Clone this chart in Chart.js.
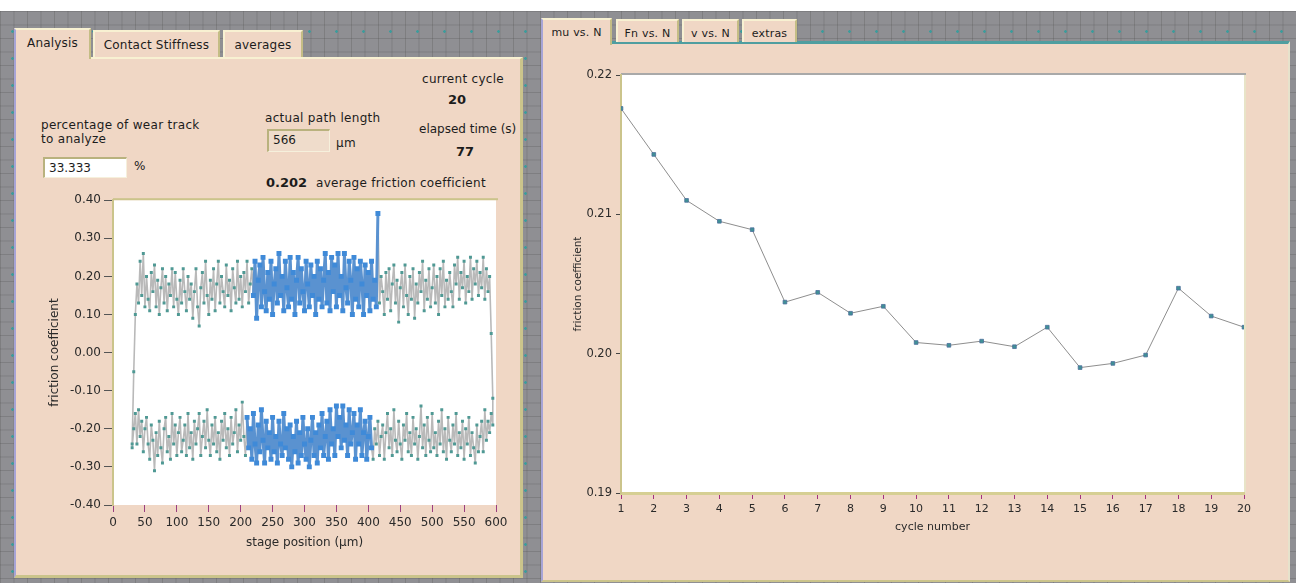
<!DOCTYPE html>
<html lang="en">
<head>
  <meta charset="UTF-8">
  <title>Friction loop / mu vs. N</title>
  <script src="https://cdn.jsdelivr.net/npm/chart.js"></script>
  <style>
    body { margin: 0; width: 1296px; height: 583px; overflow: hidden; background: #fff;
           font-family: "DejaVu Sans", sans-serif; color: #1c1c1c; }
    #desk { position: absolute; left: 0; top: 11px; width: 1296px; height: 572px;
            background-color: #8f8f93;
            background-image:
              radial-gradient(circle, #3c9c9c 1px, transparent 1.6px),
              linear-gradient(rgba(80,80,80,.28) 1px, transparent 1px),
              linear-gradient(90deg, rgba(80,80,80,.28) 1px, transparent 1px);
            background-size: 27px 27px, 13.5px 13.5px, 13.5px 13.5px;
            background-position: -1px 7px, 0 0, 0 0; }
    .panel { position: absolute; background: #f0d7c5; box-sizing: border-box; }
    .tab { position: absolute; background: #f0d7c5; box-sizing: border-box;
           border-top: 2px solid #f8f1d2; border-left: 2px solid #f8f1d2; border-right: 2px solid #c4bd85;
           font-size: 12px; letter-spacing: 0.2px; padding-top: 6px; text-align: center; }
    .lbl { position: absolute; font-size: 12px; letter-spacing: 0.3px; white-space: nowrap; line-height: 14px; }
    .num { position: absolute; font-size: 13px; font-weight: bold; white-space: nowrap; line-height: 15px; }
    .box { position: absolute; box-sizing: border-box; font-size: 12px; padding: 2px 0 0 4px;
           border-top: 2px solid #b9b27e; border-left: 2px solid #b9b27e;
           border-bottom: 1px solid #f6f0dc; border-right: 1px solid #f6f0dc; }
    canvas { position: absolute; }
  </style>
</head>
<body>
  <div id="desk"></div>

  <!-- left panel -->
  <div class="panel" style="left:14px;top:57px;width:509px;height:521px;border-left:2px solid #a7a4d6;border-right:3px solid #cbc48b;border-bottom:3px solid #cbc48b;border-top:2px solid #f8f1d2;"></div>
  <div class="tab" style="left:14px;top:28px;width:77px;height:31px;border-left-color:#a7a4d6;">Analysis</div>
  <div class="tab" style="left:93px;top:30px;width:127px;height:27px;">Contact Stiffness</div>
  <div class="tab" style="left:223px;top:30px;width:80px;height:27px;">averages</div>

  <div class="lbl" style="left:422px;top:72px;">current cycle</div>
  <div class="num" style="left:448px;top:92px;">20</div>
  <div class="lbl" style="left:419px;top:122px;letter-spacing:0;">elapsed time (s)</div>
  <div class="num" style="left:456px;top:144px;">77</div>

  <div class="lbl" style="left:41px;top:118px;">percentage of wear track</div>
  <div class="lbl" style="left:41px;top:132px;">to analyze</div>
  <div class="box" style="left:43px;top:157px;width:84px;height:21px;background:#fff;">33.333</div>
  <div class="lbl" style="left:134px;top:159px;">%</div>

  <div class="lbl" style="left:265px;top:111px;">actual path length</div>
  <div class="box" style="left:267px;top:129px;width:63px;height:23px;background:#efdccb;">566</div>
  <div class="lbl" style="left:336px;top:136px;">µm</div>

  <div class="num" style="left:266px;top:175px;">0.202</div>
  <div class="lbl" style="left:316px;top:176px;">average friction coefficient</div>

  <canvas id="loopChart" width="480" height="360" style="left:40px;top:190px;"></canvas>

  <!-- right panel -->
  <div class="panel" style="left:541px;top:41px;width:749px;height:541px;border-left:2px solid #a7a4d6;border-top:3px solid #4f9ea0;border-bottom:2px solid #cbc48b;border-right:2px solid #e6e2cc;"></div>
  <div class="tab" style="left:541px;top:18px;width:71px;height:27px;font-size:11px;border-left-color:#a7a4d6;">mu vs. N</div>
  <div class="tab" style="left:616px;top:19px;width:63px;height:23px;font-size:11px;">Fn vs. N</div>
  <div class="tab" style="left:682px;top:19px;width:57px;height:23px;font-size:11px;">v vs. N</div>
  <div class="tab" style="left:742px;top:19px;width:55px;height:23px;font-size:11px;">extras</div>

  <canvas id="cycleChart" width="730" height="474" style="left:555px;top:60px;"></canvas>

  <script>
    // stage position grid of one stroke (µm)
    const posStart = 30;
    const posStep = 2.5;

    // friction coefficient, forward stroke (left -> right)
    const forwardMu = [
      -0.24, -0.05, 0.10, 0.18, 0.13, 0.24, 0.15, 0.26, 0.12, 0.20,
      0.14, 0.11, 0.21, 0.16, 0.23, 0.12, 0.19, 0.10, 0.17, 0.22,
      0.13, 0.20, 0.11, 0.18, 0.15, 0.22, 0.12, 0.21, 0.14, 0.10,
      0.19, 0.13, 0.22, 0.16, 0.11, 0.20, 0.14, 0.18, 0.09, 0.16,
      0.22, 0.12, 0.07, 0.17, 0.21, 0.13, 0.24, 0.15, 0.10, 0.19,
      0.14, 0.22, 0.11, 0.18, 0.24, 0.13, 0.20, 0.16, 0.12, 0.23,
      0.15, 0.19, 0.11, 0.22, 0.17, 0.13, 0.24, 0.14, 0.20, 0.12,
      0.21, 0.16, 0.24, 0.13, 0.18, 0.22, 0.15, 0.24, 0.09, 0.19,
      0.23, 0.12, 0.25, 0.16, 0.11, 0.21, 0.14, 0.24, 0.10, 0.18,
      0.22, 0.13, 0.26, 0.15, 0.20, 0.11, 0.24, 0.17, 0.12, 0.25,
      0.14, 0.21, 0.10, 0.19, 0.25, 0.13, 0.22, 0.16, 0.11, 0.24,
      0.18, 0.12, 0.23, 0.15, 0.20, 0.10, 0.24, 0.14, 0.22, 0.12,
      0.19, 0.26, 0.13, 0.21, 0.11, 0.25, 0.16, 0.23, 0.12, 0.26,
      0.15, 0.20, 0.11, 0.26, 0.17, 0.13, 0.24, 0.19, 0.10, 0.25,
      0.14, 0.22, 0.12, 0.24, 0.18, 0.10, 0.23, 0.15, 0.21, 0.11,
      0.24, 0.14, 0.19, 0.12, 0.365, 0.13, 0.20, 0.16, 0.10, 0.21,
      0.14, 0.22, 0.11, 0.18, 0.23, 0.13, 0.19, 0.08, 0.17, 0.21,
      0.12, 0.23, 0.15, 0.10, 0.20, 0.14, 0.22, 0.09, 0.18, 0.13,
      0.21, 0.16, 0.24, 0.11, 0.19, 0.14, 0.22, 0.12, 0.17, 0.23,
      0.13, 0.20, 0.10, 0.22, 0.15, 0.24, 0.12, 0.19, 0.14, 0.21,
      0.16, 0.12, 0.23, 0.18, 0.25, 0.14, 0.21, 0.17, 0.24, 0.13,
      0.20, 0.16, 0.25, 0.14, 0.22, 0.18, 0.24, 0.15, 0.21, 0.17,
      0.25, 0.14, 0.22, 0.16, 0.20, 0.05, -0.12
    ];

    // friction coefficient, reverse stroke (listed by increasing position)
    const reverseMu = [
      -0.25, -0.20, -0.16, -0.24, -0.15, -0.22, -0.18, -0.26, -0.20, -0.17,
      -0.24, -0.28, -0.19, -0.23, -0.31, -0.21, -0.27, -0.18, -0.25, -0.29,
      -0.20, -0.17, -0.26, -0.22, -0.28, -0.16, -0.24, -0.19, -0.27, -0.21,
      -0.17, -0.26, -0.23, -0.19, -0.27, -0.16, -0.25, -0.21, -0.28, -0.18,
      -0.24, -0.20, -0.16, -0.27, -0.22, -0.18, -0.25, -0.15, -0.23, -0.27,
      -0.19, -0.24, -0.17, -0.26, -0.21, -0.28, -0.18, -0.23, -0.16, -0.25,
      -0.20, -0.27, -0.17, -0.24, -0.21, -0.15, -0.26, -0.19, -0.23, -0.13,
      -0.22, -0.27, -0.17, -0.25, -0.20, -0.28, -0.16, -0.24, -0.29, -0.19,
      -0.26, -0.15, -0.23, -0.29, -0.18, -0.25, -0.21, -0.28, -0.17, -0.26,
      -0.22, -0.29, -0.18, -0.24, -0.27, -0.16, -0.25, -0.20, -0.28, -0.19,
      -0.30, -0.22, -0.26, -0.18, -0.29, -0.21, -0.27, -0.17, -0.24, -0.28,
      -0.20, -0.30, -0.23, -0.17, -0.27, -0.21, -0.29, -0.19, -0.25, -0.16,
      -0.27, -0.22, -0.18, -0.28, -0.15, -0.24, -0.20, -0.27, -0.14, -0.22,
      -0.17, -0.25, -0.14, -0.23, -0.19, -0.27, -0.15, -0.24, -0.21, -0.16,
      -0.28, -0.19, -0.24, -0.15, -0.27, -0.21, -0.18, -0.28, -0.22, -0.17,
      -0.25, -0.28, -0.20, -0.24, -0.18, -0.27, -0.22, -0.19, -0.28, -0.21,
      -0.16, -0.25, -0.20, -0.27, -0.15, -0.23, -0.26, -0.18, -0.24, -0.28,
      -0.19, -0.23, -0.16, -0.26, -0.21, -0.27, -0.17, -0.24, -0.20, -0.28,
      -0.22, -0.14, -0.25, -0.19, -0.27, -0.17, -0.23, -0.26, -0.16, -0.25,
      -0.21, -0.27, -0.18, -0.24, -0.15, -0.26, -0.20, -0.28, -0.17, -0.23,
      -0.26, -0.19, -0.24, -0.16, -0.27, -0.21, -0.25, -0.18, -0.28, -0.20,
      -0.24, -0.17, -0.27, -0.21, -0.25, -0.29, -0.19, -0.26, -0.22, -0.18,
      -0.26, -0.15, -0.23, -0.18, -0.21, -0.16, -0.19
    ];

    // analysed part of the wear track (µm)
    const fwdWindow = [220, 415];
    const revWindow = [210, 405];

    // averages per cycle
    const cycles = [1, 2, 3, 4, 5, 6, 7, 8, 9, 10, 11, 12, 13, 14, 15, 16, 17, 18, 19, 20];
    const cycleMu = [0.2176, 0.2143, 0.2110, 0.2095, 0.2089, 0.2037, 0.2044, 0.2029, 0.2034, 0.2008,
                     0.2006, 0.2009, 0.2005, 0.2019, 0.1990, 0.1993, 0.1999, 0.2047, 0.2027, 0.2019];

    const stagePos = forwardMu.map((_, i) => posStart + i * posStep);
    const fwdPts = stagePos.map((x, i) => ({ x: x, y: forwardMu[i] }));
    const revPts = stagePos.map((x, i) => ({ x: x, y: reverseMu[i] })).reverse();
    const inWin = (w) => (p) => p.x >= w[0] && p.x <= w[1];

    Chart.defaults.font.family = '"DejaVu Sans", sans-serif';
    Chart.defaults.color = '#2a2a2a';

    // white plot background with a thin frame line on top
    const plotFrame = {
      id: 'plotFrame',
      beforeDraw(chart, args, opts) {
        const { ctx, chartArea: a } = chart;
        ctx.save();
        ctx.fillStyle = '#ffffff';
        ctx.fillRect(a.left, a.top, a.right - a.left, a.bottom - a.top);
        ctx.fillStyle = opts.top;
        ctx.fillRect(a.left, a.top - 2, a.right - a.left + 2, 2);
        if (opts.right) {
          ctx.fillStyle = opts.right;
          ctx.fillRect(a.right, a.top, 2, a.bottom - a.top);
        }
        ctx.restore();
      }
    };

    const blueSet = (pts) => ({
      data: pts,
      borderColor: '#5a92d0',
      borderWidth: 3,
      borderJoinStyle: 'round',
      pointStyle: 'rect',
      pointRadius: 3.5,
      pointBackgroundColor: '#3f8ad8',
      pointBorderWidth: 0
    });

    new Chart(document.getElementById('loopChart'), {
      type: 'line',
      data: {
        datasets: [
          blueSet(fwdPts.filter(inWin(fwdWindow))),
          blueSet(revPts.filter(inWin(revWindow))),
          {
            data: fwdPts.concat(revPts),
            borderColor: '#b9b9b9',
            borderWidth: 1.6,
            borderJoinStyle: 'round',
            pointStyle: 'rect',
            pointRadius: 2.1,
            pointBackgroundColor: '#4f9994',
            pointBorderWidth: 0
          }
        ]
      },
      options: {
        responsive: false,
        animation: false,
        layout: { padding: { top: 9, right: 24, left: 0, bottom: 0 } },
        plugins: { legend: { display: false }, tooltip: { enabled: false }, plotFrame: { top: '#cbc48b' } },
        scales: {
          x: {
            type: 'linear', min: 0, max: 600,
            ticks: { stepSize: 50, autoSkip: false, maxRotation: 0, padding: 4, font: { size: 12 } },
            grid: { drawOnChartArea: false, tickLength: 7, tickColor: '#9b3f80' },
            border: { display: false },
            title: { display: true, text: 'stage position (µm)', font: { size: 12 }, padding: { top: 0, bottom: 0 } },
            afterFit: (s) => { s.height = 45; }
          },
          y: {
            min: -0.4, max: 0.4,
            ticks: { stepSize: 0.1, padding: 3, font: { size: 12 },
                     callback: (v) => (Math.abs(v) < 1e-9 ? 0 : v).toFixed(2) },
            grid: { drawOnChartArea: false, tickLength: 9, tickColor: '#555' },
            border: { color: '#cbc48b', width: 2 },
            title: { display: true, text: 'friction coefficient', font: { size: 12 }, padding: { top: 8, bottom: 0 } },
            afterFit: (s) => { s.width = 73; }
          }
        }
      },
      plugins: [plotFrame]
    });

    new Chart(document.getElementById('cycleChart'), {
      type: 'line',
      data: {
        datasets: [{
          data: cycles.map((c, i) => ({ x: c, y: cycleMu[i] })),
          borderColor: '#8e8e8e',
          borderWidth: 1,
          pointStyle: 'rect',
          pointRadius: 2.6,
          pointBackgroundColor: '#3f9196',
          pointBorderColor: '#4d6e9c',
          pointBorderWidth: 0.8
        }]
      },
      options: {
        responsive: false,
        animation: false,
        layout: { padding: { top: 15, right: 41, left: 0, bottom: 0 } },
        plugins: { legend: { display: false }, tooltip: { enabled: false }, plotFrame: { top: '#a9a9a9', right: '#e8e4c8' } },
        scales: {
          x: {
            type: 'linear', min: 1, max: 20,
            ticks: { stepSize: 1, autoSkip: false, maxRotation: 0, padding: 4, font: { size: 11 } },
            grid: { drawOnChartArea: false, tickLength: 6, tickColor: '#a3317c' },
            border: { color: '#d6cf93', width: 3 },
            title: { display: true, text: 'cycle number', font: { size: 11 }, padding: { top: 0, bottom: 0 } },
            afterFit: (s) => { s.height = 41; }
          },
          y: {
            min: 0.19, max: 0.22,
            ticks: { stepSize: 0.01, padding: 4, font: { size: 11.5 }, callback: (v) => v.toFixed(2) },
            grid: { drawOnChartArea: false, tickLength: 5, tickColor: '#444' },
            border: { color: '#cbc48b', width: 2 },
            title: { display: true, text: 'friction coefficient', font: { size: 10.5 }, padding: { top: 17, bottom: 0 } },
            afterFit: (s) => { s.width = 66; }
          }
        }
      },
      plugins: [plotFrame]
    });
  </script>
</body>
</html>
